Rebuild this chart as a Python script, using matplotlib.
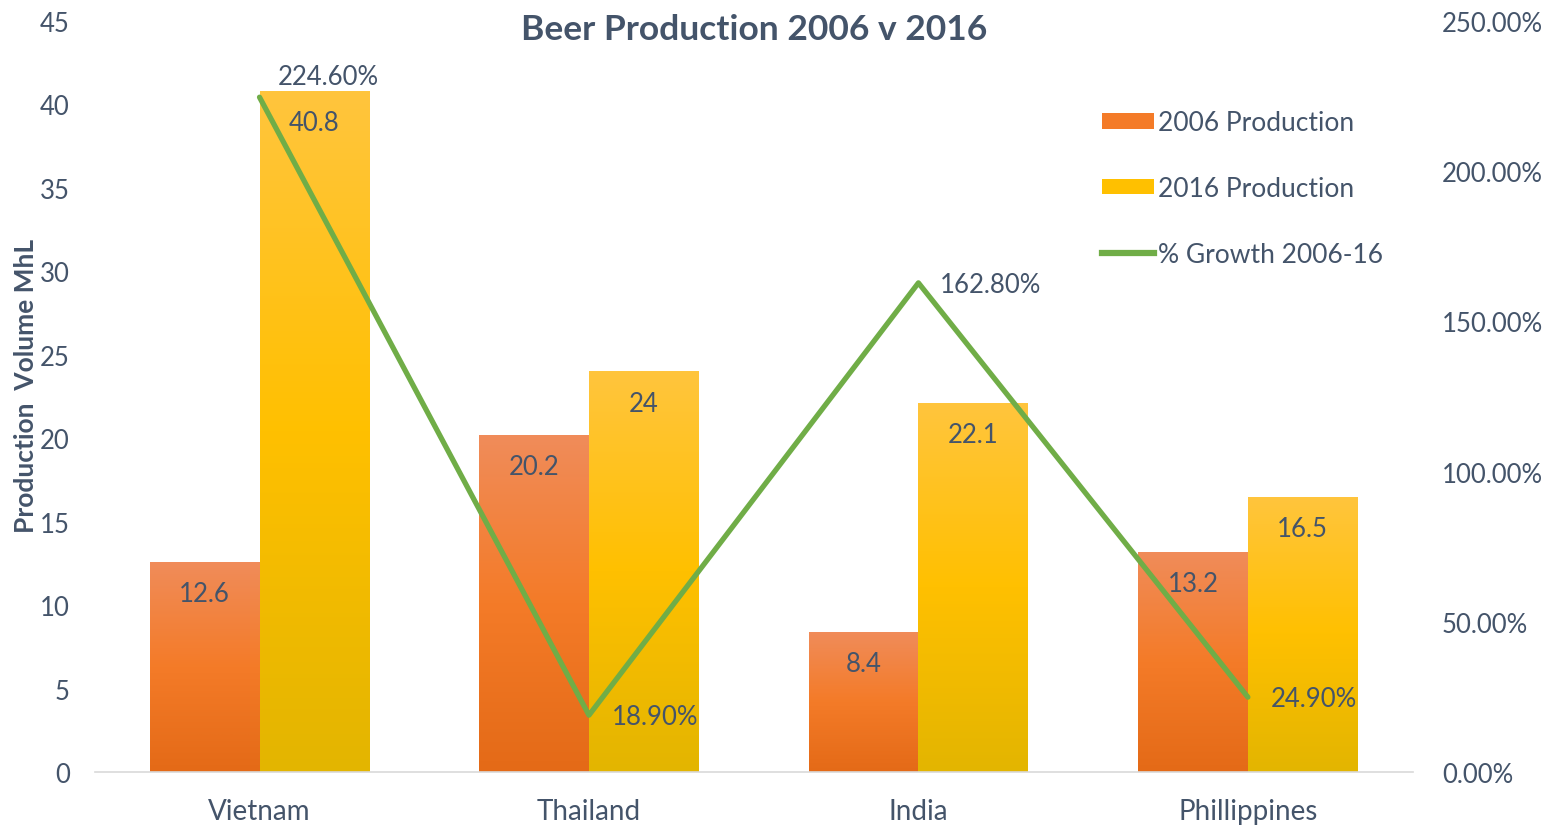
import matplotlib
matplotlib.use('Agg')
import matplotlib.pyplot as plt
import numpy as np
from matplotlib.colors import LinearSegmentedColormap
from matplotlib.patches import Patch
from matplotlib.lines import Line2D
from matplotlib.ticker import FuncFormatter

countries = ['Vietnam', 'Thailand', 'India', 'Phillippines']
prod_2006 = [12.6, 20.2, 8.4, 13.2]
prod_2016 = [40.8, 24, 22.1, 16.5]
growth = [224.6, 18.9, 162.8, 24.9]

TXT = '#44546A'
plt.rcParams['font.family'] = ['Lato', 'DejaVu Sans']

fig = plt.figure(figsize=(15.54, 8.29), dpi=100)
ax = fig.add_axes([0.061, 0.0676, 0.848, 0.906])
ax2 = ax.twinx()

x = np.arange(len(countries))
w = 1 / 3

orange = LinearSegmentedColormap.from_list('o', ['#E46A17', '#F47B28', '#F08C5A'])
yellow = LinearSegmentedColormap.from_list('y', ['#E3B500', '#FFC000', '#FFC53D'])

grad = np.linspace(0, 1, 256).reshape(-1, 1)

def gradient_bars(xs, vals, cmap):
    bars = ax.bar(xs, vals, width=w, color='none', edgecolor='none', zorder=2)
    for b in bars:
        x0, y0 = b.get_x(), b.get_y()
        im = ax.imshow(grad, cmap=cmap, origin='lower', aspect='auto',
                       extent=[x0, x0 + b.get_width(), y0, y0 + b.get_height()], zorder=2)
        im.set_clip_path(b)
    return bars

gradient_bars(x - w / 2, prod_2006, orange)
gradient_bars(x + w / 2, prod_2016, yellow)

for xi, v in zip(x - w / 2, prod_2006):
    ax.text(xi, v - 1.9, f'{v:g}', ha='center', va='center', fontsize=18.5, color=TXT, zorder=3)
for xi, v in zip(x + w / 2, prod_2016):
    ax.text(xi, v - 1.9, f'{v:g}', ha='center', va='center', fontsize=18.5, color=TXT, zorder=3)

ax.set_xlim(-0.5, 3.5)
ax.set_ylim(0, 45)
ax.set_yticks(range(0, 46, 5))
ax.set_xticks(x)
ax.set_xticklabels(countries, fontsize=20, color=TXT)
ax.tick_params(axis='y', labelsize=18.5, colors=TXT, length=0, pad=18)
ax.tick_params(axis='x', length=0, pad=19)
ax.set_ylabel('Production  Volume MhL', fontsize=19, fontweight='bold', color=TXT)
ax.yaxis.set_label_coords(-0.043, 0.515)

ax2.plot(x, growth, color='#70AD47', lw=3.8, zorder=4, solid_capstyle='round')
ax2.set_ylim(0, 250)
ax2.set_yticks(range(0, 251, 50))
ax2.yaxis.set_major_formatter(FuncFormatter(lambda v, p: f'{v:.2f}%'))
ax2.tick_params(axis='y', labelsize=18.5, colors=TXT, length=0, pad=21)

offsets = [(0.21, 7.0), (0.2, -0.4), (0.22, -0.6), (0.2, -0.6)]
for xi, g, (dx, dy) in zip(x, growth, offsets):
    ax2.text(xi + dx, g + dy, f'{g:.2f}%', ha='center', va='center', fontsize=18.5, color=TXT, zorder=5)

for a in (ax, ax2):
    for s in ('top', 'right', 'left'):
        a.spines[s].set_visible(False)
ax2.spines['bottom'].set_visible(False)
ax.spines['bottom'].set_color('#D9D9D9')
ax.spines['bottom'].set_linewidth(1.2)

ax.set_title('Beer Production 2006 v 2016', fontsize=25.5, fontweight='bold', color=TXT, pad=-13, y=1.0)

handles = [
    Patch(facecolor='#F47B28', edgecolor='none', label='2006 Production'),
    Patch(facecolor='#FFC000', edgecolor='none', label='2016 Production'),
    Line2D([0], [0], color='#70AD47', lw=4.5, label='% Growth 2006-16'),
]
leg = ax2.legend(handles=handles, loc='upper left', bbox_to_anchor=(0.746, 0.913), frameon=False,
                 fontsize=19, labelspacing=1.55, handlelength=2.0, handleheight=0.55, handletextpad=0.15)
for t in leg.get_texts():
    t.set_color(TXT)

fig.savefig('out.png', dpi=100)
